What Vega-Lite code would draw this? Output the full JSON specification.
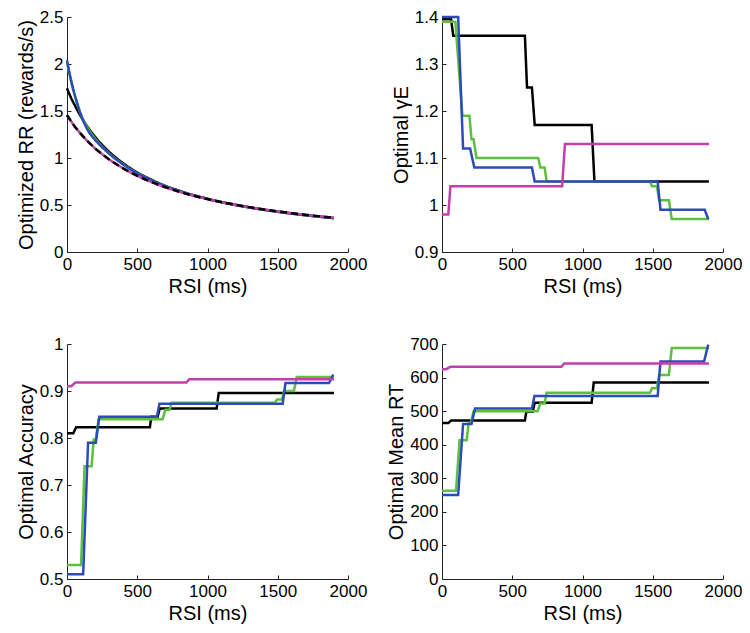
{
  "$schema": "https://vega.github.io/schema/vega-lite/v6.json",
  "padding": {"left": 16, "top": 8, "right": 5, "bottom": 5},
  "background": "white",
  "datasets": {
    "rr": [
      {"s":"black","x":0,"y":1.742},{"s":"black","x":25,"y":1.653},{"s":"black","x":50,"y":1.577},{"s":"black","x":75,"y":1.505},{"s":"black","x":100,"y":1.439},{"s":"black","x":150,"y":1.323},{"s":"black","x":200,"y":1.225},{"s":"black","x":250,"y":1.140},{"s":"black","x":300,"y":1.066},{"s":"black","x":400,"y":0.944},{"s":"black","x":500,"y":0.847},{"s":"black","x":600,"y":0.770},{"s":"black","x":700,"y":0.704},{"s":"black","x":800,"y":0.651},{"s":"black","x":1000,"y":0.566},{"s":"black","x":1200,"y":0.502},{"s":"black","x":1400,"y":0.451},{"s":"black","x":1600,"y":0.410},{"s":"black","x":1800,"y":0.376},{"s":"black","x":1900,"y":0.361},
      {"s":"green","x":0,"y":2.015},{"s":"green","x":25,"y":1.840},{"s":"green","x":50,"y":1.693},{"s":"green","x":75,"y":1.568},{"s":"green","x":100,"y":1.460},{"s":"green","x":150,"y":1.314},{"s":"green","x":200,"y":1.207},{"s":"green","x":250,"y":1.120},{"s":"green","x":300,"y":1.050},{"s":"green","x":400,"y":0.933},{"s":"green","x":500,"y":0.840},{"s":"green","x":600,"y":0.764},{"s":"green","x":700,"y":0.700},{"s":"green","x":800,"y":0.646},{"s":"green","x":1000,"y":0.563},{"s":"green","x":1200,"y":0.499},{"s":"green","x":1400,"y":0.448},{"s":"green","x":1600,"y":0.408},{"s":"green","x":1800,"y":0.374},{"s":"green","x":1900,"y":0.359},
      {"s":"blue","x":0,"y":2.040},{"s":"blue","x":25,"y":1.855},{"s":"blue","x":50,"y":1.700},{"s":"blue","x":75,"y":1.569},{"s":"blue","x":100,"y":1.457},{"s":"blue","x":150,"y":1.291},{"s":"blue","x":200,"y":1.193},{"s":"blue","x":250,"y":1.115},{"s":"blue","x":300,"y":1.046},{"s":"blue","x":400,"y":0.931},{"s":"blue","x":500,"y":0.838},{"s":"blue","x":600,"y":0.763},{"s":"blue","x":700,"y":0.701},{"s":"blue","x":800,"y":0.649},{"s":"blue","x":1000,"y":0.565},{"s":"blue","x":1200,"y":0.500},{"s":"blue","x":1400,"y":0.449},{"s":"blue","x":1600,"y":0.408},{"s":"blue","x":1800,"y":0.375},{"s":"blue","x":1900,"y":0.360},
      {"s":"magenta","x":0,"y":1.456},{"s":"magenta","x":25,"y":1.400},{"s":"magenta","x":50,"y":1.346},{"s":"magenta","x":75,"y":1.298},{"s":"magenta","x":100,"y":1.254},{"s":"magenta","x":150,"y":1.174},{"s":"magenta","x":200,"y":1.103},{"s":"magenta","x":250,"y":1.041},{"s":"magenta","x":300,"y":0.985},{"s":"magenta","x":400,"y":0.890},{"s":"magenta","x":500,"y":0.811},{"s":"magenta","x":600,"y":0.745},{"s":"magenta","x":700,"y":0.689},{"s":"magenta","x":800,"y":0.641},{"s":"magenta","x":1000,"y":0.563},{"s":"magenta","x":1200,"y":0.502},{"s":"magenta","x":1400,"y":0.453},{"s":"magenta","x":1600,"y":0.413},{"s":"magenta","x":1800,"y":0.379},{"s":"magenta","x":1900,"y":0.364},
      {"s":"dashed","x":0,"y":1.456},{"s":"dashed","x":25,"y":1.400},{"s":"dashed","x":50,"y":1.346},{"s":"dashed","x":75,"y":1.298},{"s":"dashed","x":100,"y":1.254},{"s":"dashed","x":150,"y":1.174},{"s":"dashed","x":200,"y":1.103},{"s":"dashed","x":250,"y":1.041},{"s":"dashed","x":300,"y":0.985},{"s":"dashed","x":400,"y":0.890},{"s":"dashed","x":500,"y":0.811},{"s":"dashed","x":600,"y":0.745},{"s":"dashed","x":700,"y":0.689},{"s":"dashed","x":800,"y":0.641},{"s":"dashed","x":1000,"y":0.563},{"s":"dashed","x":1200,"y":0.502},{"s":"dashed","x":1400,"y":0.453},{"s":"dashed","x":1600,"y":0.413},{"s":"dashed","x":1800,"y":0.379},{"s":"dashed","x":1900,"y":0.364}
    ],
    "gamma": [
      {"s":"black","x":0,"y":1.395},{"s":"black","x":65,"y":1.395},{"s":"black","x":80,"y":1.36},{"s":"black","x":590,"y":1.36},{"s":"black","x":605,"y":1.25},{"s":"black","x":640,"y":1.25},{"s":"black","x":660,"y":1.17},{"s":"black","x":1065,"y":1.17},{"s":"black","x":1085,"y":1.05},{"s":"black","x":1900,"y":1.05},
      {"s":"green","x":0,"y":1.39},{"s":"green","x":95,"y":1.39},{"s":"green","x":145,"y":1.19},{"s":"green","x":195,"y":1.19},{"s":"green","x":210,"y":1.14},{"s":"green","x":225,"y":1.14},{"s":"green","x":245,"y":1.10},{"s":"green","x":685,"y":1.10},{"s":"green","x":700,"y":1.08},{"s":"green","x":730,"y":1.08},{"s":"green","x":745,"y":1.05},{"s":"green","x":1480,"y":1.05},{"s":"green","x":1495,"y":1.04},{"s":"green","x":1530,"y":1.04},{"s":"green","x":1545,"y":1.01},{"s":"green","x":1615,"y":1.01},{"s":"green","x":1635,"y":0.97},{"s":"green","x":1900,"y":0.97},
      {"s":"blue","x":0,"y":1.40},{"s":"blue","x":115,"y":1.40},{"s":"blue","x":150,"y":1.12},{"s":"blue","x":200,"y":1.12},{"s":"blue","x":230,"y":1.08},{"s":"blue","x":640,"y":1.08},{"s":"blue","x":660,"y":1.05},{"s":"blue","x":1535,"y":1.05},{"s":"blue","x":1555,"y":0.99},{"s":"blue","x":1870,"y":0.99},{"s":"blue","x":1895,"y":0.97},
      {"s":"magenta","x":0,"y":0.98},{"s":"magenta","x":45,"y":0.98},{"s":"magenta","x":60,"y":1.04},{"s":"magenta","x":855,"y":1.04},{"s":"magenta","x":875,"y":1.13},{"s":"magenta","x":1900,"y":1.13}
    ],
    "acc": [
      {"s":"black","x":0,"y":0.81},{"s":"black","x":45,"y":0.81},{"s":"black","x":65,"y":0.823},{"s":"black","x":590,"y":0.823},{"s":"black","x":600,"y":0.845},{"s":"black","x":645,"y":0.845},{"s":"black","x":660,"y":0.863},{"s":"black","x":1065,"y":0.863},{"s":"black","x":1080,"y":0.896},{"s":"black","x":1900,"y":0.896},
      {"s":"green","x":0,"y":0.53},{"s":"green","x":100,"y":0.53},{"s":"green","x":125,"y":0.74},{"s":"green","x":175,"y":0.74},{"s":"green","x":190,"y":0.797},{"s":"green","x":205,"y":0.797},{"s":"green","x":225,"y":0.84},{"s":"green","x":680,"y":0.84},{"s":"green","x":700,"y":0.86},{"s":"green","x":730,"y":0.86},{"s":"green","x":745,"y":0.875},{"s":"green","x":1480,"y":0.875},{"s":"green","x":1495,"y":0.882},{"s":"green","x":1530,"y":0.882},{"s":"green","x":1545,"y":0.90},{"s":"green","x":1615,"y":0.90},{"s":"green","x":1635,"y":0.93},{"s":"green","x":1900,"y":0.93},
      {"s":"blue","x":0,"y":0.51},{"s":"blue","x":115,"y":0.51},{"s":"blue","x":150,"y":0.79},{"s":"blue","x":205,"y":0.79},{"s":"blue","x":230,"y":0.845},{"s":"blue","x":640,"y":0.845},{"s":"blue","x":658,"y":0.873},{"s":"blue","x":1535,"y":0.873},{"s":"blue","x":1555,"y":0.917},{"s":"blue","x":1865,"y":0.917},{"s":"blue","x":1895,"y":0.935},
      {"s":"magenta","x":0,"y":0.91},{"s":"magenta","x":30,"y":0.91},{"s":"magenta","x":60,"y":0.918},{"s":"magenta","x":850,"y":0.918},{"s":"magenta","x":870,"y":0.925},{"s":"magenta","x":1900,"y":0.925}
    ],
    "rt": [
      {"s":"black","x":0,"y":465},{"s":"black","x":45,"y":465},{"s":"black","x":65,"y":472},{"s":"black","x":590,"y":472},{"s":"black","x":600,"y":498},{"s":"black","x":645,"y":498},{"s":"black","x":660,"y":525},{"s":"black","x":1065,"y":525},{"s":"black","x":1080,"y":585},{"s":"black","x":1900,"y":585},
      {"s":"green","x":0,"y":263},{"s":"green","x":100,"y":263},{"s":"green","x":125,"y":413},{"s":"green","x":175,"y":413},{"s":"green","x":190,"y":465},{"s":"green","x":205,"y":465},{"s":"green","x":225,"y":500},{"s":"green","x":680,"y":500},{"s":"green","x":700,"y":523},{"s":"green","x":730,"y":523},{"s":"green","x":745,"y":555},{"s":"green","x":1480,"y":555},{"s":"green","x":1495,"y":568},{"s":"green","x":1530,"y":568},{"s":"green","x":1545,"y":608},{"s":"green","x":1615,"y":608},{"s":"green","x":1635,"y":688},{"s":"green","x":1900,"y":688},
      {"s":"blue","x":0,"y":250},{"s":"blue","x":115,"y":250},{"s":"blue","x":150,"y":462},{"s":"blue","x":210,"y":462},{"s":"blue","x":235,"y":508},{"s":"blue","x":640,"y":508},{"s":"blue","x":658,"y":545},{"s":"blue","x":1535,"y":545},{"s":"blue","x":1555,"y":648},{"s":"blue","x":1865,"y":648},{"s":"blue","x":1895,"y":698},
      {"s":"magenta","x":0,"y":625},{"s":"magenta","x":30,"y":625},{"s":"magenta","x":60,"y":632},{"s":"magenta","x":850,"y":632},{"s":"magenta","x":870,"y":642},{"s":"magenta","x":1900,"y":642}
    ]
  },
  "columns": 2,
  "bounds": "flush",
  "spacing": {"row": 92, "column": 94},
  "concat": [
    {
      "width": 281, "height": 235,
      "data": {"name": "rr"},
      "mark": {"type": "line", "strokeWidth": 2.5, "interpolate": "monotone"},
      "encoding": {
        "x": {"field": "x", "type": "quantitative", "scale": {"domain": [0, 2000], "nice": false}, "axis": {"values": [0, 500, 1000, 1500, 2000], "format": "d", "title": "RSI (ms)"}},
        "y": {"field": "y", "type": "quantitative", "scale": {"domain": [0, 2.5], "nice": false}, "axis": {"values": [0, 0.5, 1, 1.5, 2, 2.5], "format": "~g", "title": "Optimized RR (rewards/s)"}},
        "color": {"field": "s", "type": "nominal", "sort": null, "scale": {"domain": ["black", "green", "blue", "magenta", "dashed"], "range": ["#000000", "#5cbf3f", "#2a4bb8", "#c43fae", "#000000"]}, "legend": null},
        "strokeDash": {"field": "s", "type": "nominal", "sort": null, "scale": {"domain": ["black", "green", "blue", "magenta", "dashed"], "range": [[1, 0], [1, 0], [1, 0], [1, 0], [7, 4]]}, "legend": null}
      }
    },
    {
      "width": 281, "height": 235,
      "data": {"name": "gamma"},
      "mark": {"type": "line", "strokeWidth": 2.5},
      "encoding": {
        "x": {"field": "x", "type": "quantitative", "scale": {"domain": [0, 2000], "nice": false}, "axis": {"values": [0, 500, 1000, 1500, 2000], "format": "d", "title": "RSI (ms)"}},
        "y": {"field": "y", "type": "quantitative", "scale": {"domain": [0.9, 1.4], "nice": false, "zero": false}, "axis": {"values": [0.9, 1, 1.1, 1.2, 1.3, 1.4], "format": "~g", "title": "Optimal γE"}},
        "color": {"field": "s", "type": "nominal", "sort": null, "scale": {"domain": ["black", "green", "blue", "magenta"], "range": ["#000000", "#5cbf3f", "#2a4bb8", "#c43fae"]}, "legend": null}
      }
    },
    {
      "width": 281, "height": 235,
      "data": {"name": "acc"},
      "mark": {"type": "line", "strokeWidth": 2.5},
      "encoding": {
        "x": {"field": "x", "type": "quantitative", "scale": {"domain": [0, 2000], "nice": false}, "axis": {"values": [0, 500, 1000, 1500, 2000], "format": "d", "title": "RSI (ms)"}},
        "y": {"field": "y", "type": "quantitative", "scale": {"domain": [0.5, 1], "nice": false, "zero": false}, "axis": {"values": [0.5, 0.6, 0.7, 0.8, 0.9, 1], "format": "~g", "title": "Optimal Accuracy"}},
        "color": {"field": "s", "type": "nominal", "sort": null, "scale": {"domain": ["black", "green", "blue", "magenta"], "range": ["#000000", "#5cbf3f", "#2a4bb8", "#c43fae"]}, "legend": null}
      }
    },
    {
      "width": 281, "height": 235,
      "data": {"name": "rt"},
      "mark": {"type": "line", "strokeWidth": 2.5},
      "encoding": {
        "x": {"field": "x", "type": "quantitative", "scale": {"domain": [0, 2000], "nice": false}, "axis": {"values": [0, 500, 1000, 1500, 2000], "format": "d", "title": "RSI (ms)"}},
        "y": {"field": "y", "type": "quantitative", "scale": {"domain": [0, 700], "nice": false}, "axis": {"values": [0, 100, 200, 300, 400, 500, 600, 700], "format": "d", "title": "Optimal Mean RT"}},
        "color": {"field": "s", "type": "nominal", "sort": null, "scale": {"domain": ["black", "green", "blue", "magenta"], "range": ["#000000", "#5cbf3f", "#2a4bb8", "#c43fae"]}, "legend": null}
      }
    }
  ],
  "config": {
    "view": {"stroke": null},
    "font": "Liberation Sans",
    "axis": {
      "grid": false,
      "domainColor": "#222",
      "domainWidth": 1,
      "tickColor": "#222",
      "tickSize": -4,
      "labelPadding": 8,
      "labelFontSize": 17,
      "labelColor": "#000",
      "labelFlush": false,
      "labelOverlap": false,
      "titleFontSize": 20,
      "titleFontWeight": "normal",
      "titleColor": "#000"
    },
    "axisX": {"titlePadding": 4},
    "axisY": {"titlePadding": 3}
  }
}
